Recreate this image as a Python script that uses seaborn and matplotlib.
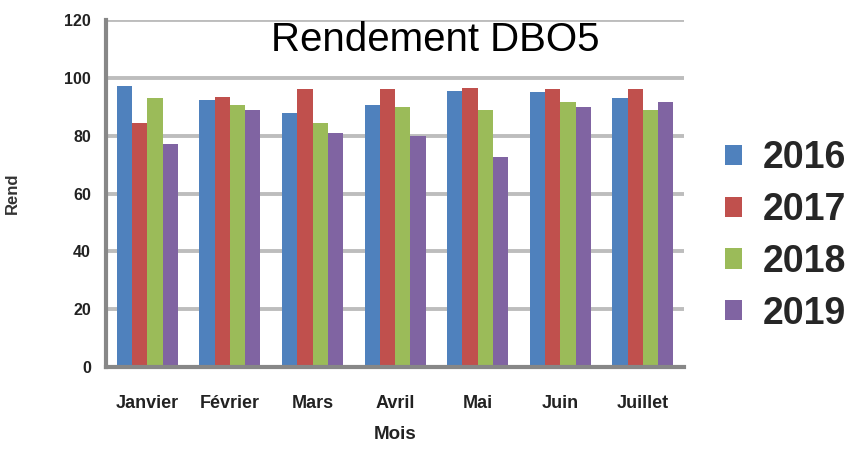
import matplotlib
matplotlib.use("Agg")
import matplotlib.pyplot as plt
import seaborn as sns
import pandas as pd
import numpy as np

mois = ["Janvier", "Février", "Mars", "Avril", "Mai", "Juin", "Juillet"]
annees = ["2016", "2017", "2018", "2019"]
v2016 = [97, 92.5, 88, 90.5, 95.5, 95, 93]
v2017 = [84.5, 93.5, 96, 96, 96.5, 96, 96]
v2018 = [93, 90.5, 84.5, 90, 89, 91.5, 89]
v2019 = [77, 89, 81, 80, 72.5, 90, 91.5]
couleurs = ["#4F81BD", "#C0504D", "#9BBB59", "#8064A2"]

rows = []
for an, vals in zip(annees, [v2016, v2017, v2018, v2019]):
    for m, v in zip(mois, vals):
        rows.append({"Mois": m, "Annee": an, "Rend": v})
df = pd.DataFrame(rows)

sns.set_style("white")
plt.rcParams["font.family"] = ["Liberation Sans", "DejaVu Sans"]

fig = plt.figure(figsize=(8.51, 4.5), dpi=100)
ax = fig.add_axes([0.1246, 0.1844, 0.804 - 0.1246, 0.9556 - 0.1844])

sns.barplot(data=df, x="Mois", y="Rend", hue="Annee", order=mois, hue_order=annees,
            palette=couleurs, width=0.74, gap=0, saturation=1, ax=ax, legend=True,
            edgecolor="none", linewidth=0)

ax.set_ylim(0, 120)
ax.set_xlim(-0.5, 6.5)
ax.set_yticks(np.arange(0, 121, 20))
ax.yaxis.grid(True, color="#BDBDBD", linewidth=2.8)
ax.set_axisbelow(True)
for s in ["top", "right"]:
    ax.spines[s].set_visible(False)
ax.spines["left"].set_color("#878787")
ax.spines["left"].set_linewidth(3)
ax.spines["bottom"].set_color("#878787")
ax.spines["bottom"].set_linewidth(3)

ax.tick_params(axis="y", length=5, width=2.5, color="#BDBDBD", labelsize=11.5, pad=6)
ax.tick_params(axis="x", which="major", length=0, labelsize=13, pad=20)
ax.set_xticks(np.arange(-0.5, 7, 1), minor=True)
ax.tick_params(axis="x", which="minor", length=7, width=2.5, color="#9A9A9A")
for lbl in ax.get_xticklabels() + ax.get_yticklabels():
    lbl.set_fontweight("bold")
    lbl.set_color("#222222")

ax.set_xlabel("Mois", fontsize=13.5, fontweight="bold", labelpad=10, color="#222222")
ax.set_ylabel("Rend", fontsize=12, fontweight="bold", color="#333333")
ax.yaxis.set_label_coords(-0.149, (367 - 193) / 347)

ax.text(0.569, 0.942, "Rendement DBO5", transform=ax.transAxes, ha="center", va="center",
        fontsize=29, color="black")

handles, labels = ax.get_legend_handles_labels()
ax.get_legend().remove()
fig.legend(handles, labels, loc="center left", bbox_to_anchor=(0.852, 0.4756), frameon=False,
           prop={"size": 27, "weight": "bold"}, handlelength=0.45, handleheight=0.45,
           handletextpad=0.56, labelspacing=0.42, borderpad=0, borderaxespad=0)

fig.savefig("out.png", dpi=100)
